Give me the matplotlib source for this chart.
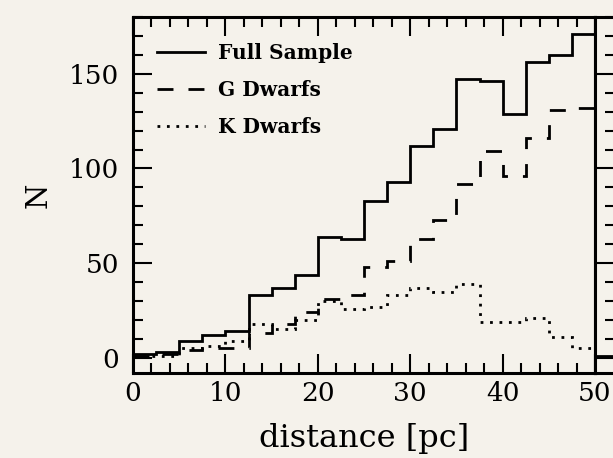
import numpy as np
import matplotlib
matplotlib.use("Agg")
import matplotlib.pyplot as plt
from matplotlib.ticker import MultipleLocator


# histogram bins of 2.5 pc
bin_edges = np.arange(0, 52.5, 2.5)

full_counts = [2, 3, 9, 12, 14, 33, 37, 44, 64, 63,
               83, 93, 112, 121, 147, 146, 129, 156, 160, 171]
g_counts = [1, 2, 4, 5, 5, 13, 18, 24, 31, 33,
            48, 51, 63, 73, 92, 109, 96, 116, 131, 132]
k_counts = [1, 1, 5, 6, 9, 18, 15, 20, 30, 26,
            27, 33, 37, 35, 39, 19, 19, 21, 11, 5]

labels = ["Full Sample", "G Dwarfs", "K Dwarfs"]

# first bin of the neighbouring panel, only a sliver of it is in the crop
next_panel_counts = [1]

BG = "#f5f2eb"
W, H = 613, 458

plt.rcParams["font.family"] = ["DejaVu Serif"]

fig = plt.figure(figsize=(W / 100, H / 100), dpi=100)
fig.patch.set_facecolor(BG)

left, right, top, bottom = 133 / W, 595 / W, 1 - 17 / H, 1 - 373 / H
ax = fig.add_axes([left, bottom, right - left, top - bottom])
ax.set_facecolor(BG)

lw = 2.0
ax.stairs(full_counts, bin_edges, baseline=None, color="black", lw=lw,
          label=labels[0])
ax.stairs(g_counts, bin_edges, baseline=None, color="black", lw=lw,
          linestyle=(0, (5.75, 5.4)), label=labels[1])
ax.stairs(k_counts, bin_edges, baseline=None, color="black", lw=lw,
          linestyle=(0, (1, 2.4)), label=labels[2])

ax.set_xlim(0, 50)
ax.set_ylim(-8, 180)
ax.xaxis.set_major_locator(MultipleLocator(10))
ax.xaxis.set_minor_locator(MultipleLocator(2))
ax.yaxis.set_major_locator(MultipleLocator(50))
ax.yaxis.set_minor_locator(MultipleLocator(10))

ax.tick_params(which="both", direction="in", top=True, right=False,
               width=1.5, labelsize=19, color="black")
ax.tick_params(which="major", length=13.5, pad=6)
ax.tick_params(which="minor", length=7)
ax.tick_params(axis="y", pad=10)
for sp in ax.spines.values():
    sp.set_linewidth(2.2)

ax.set_xlabel("distance [pc]", fontsize=23, labelpad=12)
ax.set_ylabel("N", fontsize=21, labelpad=12)

leg = ax.legend(loc="upper left", frameon=False, handlelength=2.4,
                handletextpad=0.65, labelspacing=0.85,
                bbox_to_anchor=(24 / 462, 1 - 26 / 356), borderaxespad=0,
                borderpad=0, prop={"weight": "bold", "size": 14.5})

# neighbouring panel, cut off at the right edge of the picture
ax2 = fig.add_axes([right, bottom, 0.3, top - bottom])
ax2.set_facecolor(BG)
ax2.stairs(next_panel_counts, [0, 10], baseline=None, color="black", lw=lw)
ax2.set_xlim(0, 50)
ax2.set_ylim(-8, 180)
ax2.set_xticks([])
ax2.set_yticks([])
for sp in ax2.spines.values():
    sp.set_linewidth(2.2)

# its tick marks reach back into the gap between the two frames
ax3 = fig.add_axes([1.0, bottom, 0.1, top - bottom])
ax3.set_ylim(-8, 180)
ax3.set_xticks([])
ax3.yaxis.set_major_locator(MultipleLocator(50))
ax3.yaxis.set_minor_locator(MultipleLocator(10))
ax3.tick_params(which="both", direction="out", labelleft=False, width=1.5)
ax3.tick_params(which="major", length=13.5)
ax3.tick_params(which="minor", length=6)
for sp in ax3.spines.values():
    sp.set_visible(False)
ax3.patch.set_visible(False)

fig.savefig("out.png", dpi=100, facecolor=BG)
